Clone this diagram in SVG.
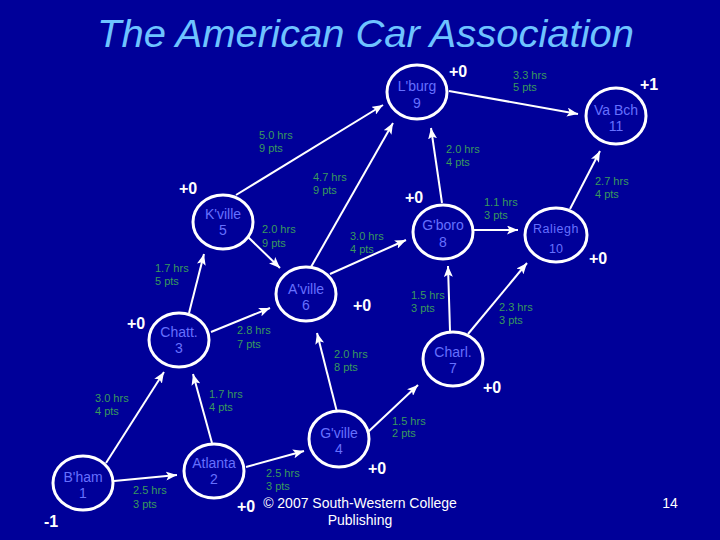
<svg xmlns="http://www.w3.org/2000/svg" width="720" height="540" viewBox="0 0 720 540">
<defs>
<marker id="arr" markerUnits="userSpaceOnUse" markerWidth="12" markerHeight="9" refX="11" refY="4.5" orient="auto">
<path d="M0,0 L11,4.5 L0,9 L2.5,4.5 z" fill="#fff"/>
</marker>
<style>
.bg{fill:#000099}
.title{font-family:"Liberation Sans",Arial,sans-serif;font-style:italic;font-size:38px;fill:#6EC3FF}
.node ellipse{fill:#000099;stroke:#fff;stroke-width:3}
.nt{font-family:"Liberation Sans",Arial,sans-serif;font-size:14px;fill:#6670FF;text-anchor:middle}
.sm{font-size:12.5px}
.edges line{stroke:#fff;stroke-width:2;marker-end:url(#arr)}
.lbl{font-family:"Liberation Sans",Arial,sans-serif;font-size:11px;fill:#3A9A5C}
.bonus{font-family:"Liberation Sans",Arial,sans-serif;font-size:16px;font-weight:bold;fill:#fff;text-anchor:middle}
.foot{font-family:"Liberation Sans",Arial,sans-serif;font-size:14px;fill:#fff;text-anchor:middle}
</style>
</defs>
<rect class="bg" x="0" y="0" width="720" height="540"/>
<text class="title" x="97" y="47" textLength="537" lengthAdjust="spacingAndGlyphs">The American Car Association</text>

<g class="edges" id="edges">
<line x1="236" y1="195" x2="383" y2="105"/>
<line x1="311" y1="267" x2="393" y2="123"/>
<line x1="442" y1="203" x2="431" y2="128"/>
<line x1="449" y1="91" x2="578" y2="114"/>
<line x1="570" y1="209" x2="600" y2="151"/>
<line x1="248" y1="237" x2="280" y2="268"/>
<line x1="330" y1="274" x2="406" y2="240"/>
<line x1="474" y1="230" x2="518" y2="230"/>
<line x1="450" y1="331" x2="448" y2="266"/>
<line x1="468" y1="334" x2="527" y2="263"/>
<line x1="189" y1="313" x2="204" y2="254"/>
<line x1="211" y1="332" x2="270" y2="308"/>
<line x1="106" y1="463" x2="164" y2="372"/>
<line x1="212" y1="443" x2="193" y2="374"/>
<line x1="114" y1="481" x2="177" y2="475"/>
<line x1="246" y1="467" x2="304" y2="451"/>
<line x1="368" y1="432" x2="418" y2="385"/>
<line x1="337" y1="412" x2="317" y2="333"/>
</g>

<g id="edge-labels">
<text class="lbl" x="513" y="79">3.3 hrs</text><text class="lbl" x="513" y="91">5 pts</text>
<text class="lbl" x="259" y="139">5.0 hrs</text><text class="lbl" x="259" y="152">9 pts</text>
<text class="lbl" x="446" y="153">2.0 hrs</text><text class="lbl" x="446" y="166">4 pts</text>
<text class="lbl" x="313" y="181">4.7 hrs</text><text class="lbl" x="313" y="194">9 pts</text>
<text class="lbl" x="595" y="185">2.7 hrs</text><text class="lbl" x="595" y="198">4 pts</text>
<text class="lbl" x="484" y="206">1.1 hrs</text><text class="lbl" x="484" y="219">3 pts</text>
<text class="lbl" x="262" y="233">2.0 hrs</text><text class="lbl" x="262" y="247">9 pts</text>
<text class="lbl" x="350" y="240">3.0 hrs</text><text class="lbl" x="350" y="253">4 pts</text>
<text class="lbl" x="155" y="272">1.7 hrs</text><text class="lbl" x="155" y="285">5 pts</text>
<text class="lbl" x="411" y="299">1.5 hrs</text><text class="lbl" x="411" y="312">3 pts</text>
<text class="lbl" x="499" y="311">2.3 hrs</text><text class="lbl" x="499" y="324">3 pts</text>
<text class="lbl" x="237" y="334">2.8 hrs</text><text class="lbl" x="237" y="348">7 pts</text>
<text class="lbl" x="334" y="358">2.0 hrs</text><text class="lbl" x="334" y="371">8 pts</text>
<text class="lbl" x="209" y="398">1.7 hrs</text><text class="lbl" x="209" y="411">4 pts</text>
<text class="lbl" x="95" y="402">3.0 hrs</text><text class="lbl" x="95" y="415">4 pts</text>
<text class="lbl" x="133" y="494">2.5 hrs</text><text class="lbl" x="133" y="508">3 pts</text>
<text class="lbl" x="266" y="477">2.5 hrs</text><text class="lbl" x="266" y="490">3 pts</text>
<text class="lbl" x="392" y="425">1.5 hrs</text><text class="lbl" x="392" y="437">2 pts</text>
</g>

<g class="node" id="n-bham"><ellipse cx="83" cy="483" rx="30" ry="27"/><text class="nt" x="83" y="482">B'ham</text><text class="nt" x="83" y="498">1</text></g>
<g class="node" id="n-atlanta"><ellipse cx="214" cy="471" rx="30" ry="27"/><text class="nt" x="214" y="468">Atlanta</text><text class="nt" x="214" y="484">2</text></g>
<g class="node" id="n-chatt"><ellipse cx="179" cy="340" rx="30" ry="27"/><text class="nt" x="179" y="337">Chatt.</text><text class="nt" x="179" y="353">3</text></g>
<g class="node" id="n-gville"><ellipse cx="339" cy="439" rx="30" ry="28"/><text class="nt" x="339" y="438">G'ville</text><text class="nt" x="339" y="454">4</text></g>
<g class="node" id="n-kville"><ellipse cx="223" cy="222" rx="30" ry="27"/><text class="nt" x="223" y="219">K'ville</text><text class="nt" x="223" y="235">5</text></g>
<g class="node" id="n-aville"><ellipse cx="306" cy="294" rx="30" ry="27"/><text class="nt" x="306" y="294">A'ville</text><text class="nt" x="306" y="310">6</text></g>
<g class="node" id="n-charl"><ellipse cx="453" cy="359" rx="30" ry="27"/><text class="nt" x="453" y="357">Charl.</text><text class="nt" x="453" y="373">7</text></g>
<g class="node" id="n-gboro"><ellipse cx="443" cy="232" rx="30" ry="27"/><text class="nt" x="443" y="230">G'boro</text><text class="nt" x="443" y="247">8</text></g>
<g class="node" id="n-lburg"><ellipse cx="417" cy="92" rx="30" ry="27"/><text class="nt" x="417" y="91">L'burg</text><text class="nt" x="417" y="108">9</text></g>
<g class="node" id="n-raliegh"><ellipse cx="556" cy="235" rx="31" ry="27"/><text class="nt sm" x="556" y="233" letter-spacing="0.5">Raliegh</text><text class="nt sm" x="556" y="253">10</text></g>
<g class="node" id="n-vabch"><ellipse cx="616" cy="116" rx="30" ry="28"/><text class="nt" x="616" y="115">Va Bch</text><text class="nt" x="616" y="131">11</text></g>

<g id="bonuses">
<text class="bonus" x="458" y="77">+0</text>
<text class="bonus" x="649" y="90">+1</text>
<text class="bonus" x="188" y="194">+0</text>
<text class="bonus" x="414" y="203">+0</text>
<text class="bonus" x="598" y="264">+0</text>
<text class="bonus" x="362" y="311">+0</text>
<text class="bonus" x="136" y="329">+0</text>
<text class="bonus" x="492" y="393">+0</text>
<text class="bonus" x="377" y="474">+0</text>
<text class="bonus" x="246" y="512">+0</text>
<text class="bonus" x="51" y="527" font-weight="normal" font-size="18">-1</text>
</g>

<text class="foot" x="360" y="508">© 2007 South-Western College</text>
<text class="foot" x="360" y="525">Publishing</text>
<text class="foot" x="670" y="508">14</text>
</svg>
